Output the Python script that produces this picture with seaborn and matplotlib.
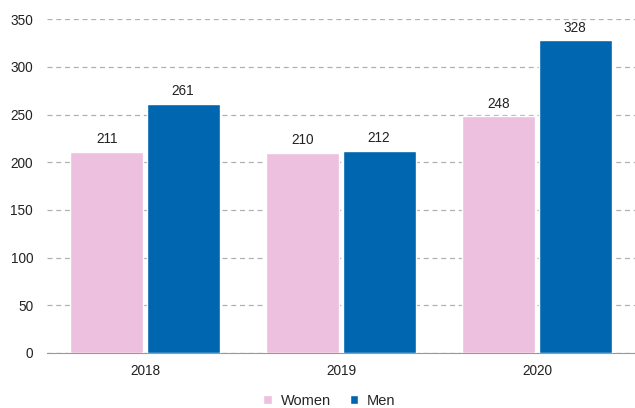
import pandas as pd
import matplotlib
matplotlib.use("Agg")
import matplotlib.pyplot as plt
import seaborn as sns

years = ["2018", "2019", "2020"]
women = [211, 210, 248]
men = [261, 212, 328]

df = pd.DataFrame({
    "Year": years * 2,
    "Group": ["Women"] * 3 + ["Men"] * 3,
    "Value": women + men,
})

sns.set_style("white")
plt.rcParams["font.family"] = ["Liberation Sans", "DejaVu Sans"]
plt.rcParams["font.size"] = 9.8

fig = plt.figure(figsize=(6.35, 4.08), dpi=100)
ax = fig.add_axes([0.074, 0.135, 0.926, 0.818])

sns.barplot(data=df, x="Year", y="Value", hue="Group", ax=ax,
            palette={"Women": "#ecc0de", "Men": "#0066b0"},
            width=0.776, gap=0.04, saturation=1, zorder=3)

for cont in ax.containers:
    ax.bar_label(cont, padding=4, fontsize=9.8, color="#222222")

ax.set_ylim(0, 350)
ax.set_yticks(range(0, 351, 50))
ax.set_xlim(-0.5, 2.5)
ax.yaxis.grid(True, linestyle=(0, (4, 3)), color="#b0b0b0", linewidth=0.9, zorder=0)
ax.set_axisbelow(True)
for s in ["top", "right", "left"]:
    ax.spines[s].set_visible(False)
ax.spines["bottom"].set_color("#999999")
ax.tick_params(axis="both", length=0, labelsize=9.8, colors="#222222")
ax.tick_params(axis="x", pad=8)
ax.tick_params(axis="y", pad=10)
ax.set_xlabel("")
ax.set_ylabel("")

handles, labels = ax.get_legend_handles_labels()
ax.legend(handles, labels, loc="upper center", bbox_to_anchor=(0.48, -0.083),
          ncol=2, frameon=False, handlelength=0.6, handleheight=0.6,
          handletextpad=0.6, columnspacing=1.3, fontsize=10.5)

fig.savefig("out.png", dpi=100)
